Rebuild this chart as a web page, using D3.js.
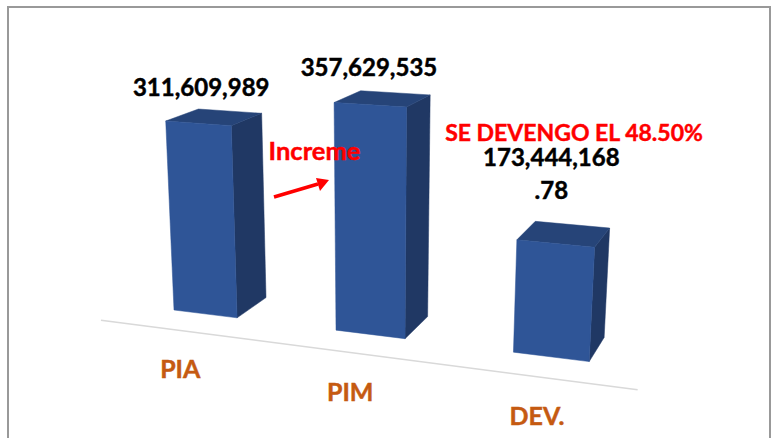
<!DOCTYPE html>
<html>
<head>
<meta charset="utf-8">
<script src="https://cdn.jsdelivr.net/npm/d3@7"></script>
<style>
  html, body { margin: 0; padding: 0; background: #fff; overflow: hidden; }
  text { font-family: Lato, sans-serif; font-weight: 700; stroke-width: 0.45px; paint-order: stroke; }
</style>
</head>
<body>
<div id="container"></div>
<script>
/* DATA */
const categories = ["PIA", "PIM", "DEV."];
const values = [311609989, 357629535, 173444168.78];
const valueLabels = [["311,609,989"], ["357,629,535"], ["173,444,168", ".78"]];

/* CONSTANTS */
const width = 777, height = 438;
const barDepth = 32.5, axisFront = -25;
const origin = [174, 310];
// vanishing points of the three box directions
const vpX = [-3400, -134], vpY = [375, 4900], vpZ = [905, -150];

// SCALES
const xScale = d3.scaleBand().domain(categories).range([-46.5, 418.5])
  .paddingInner(0.6).paddingOuter(0.3);
const hScale = d3.scaleLinear().domain([0, 400000000]).range([0, 233]);

// PROJECTION: chart space (along axis, up, depth) to the screen
const a = 1 / (vpX[0] - origin[0]), b = -1 / (vpY[1] - origin[1]), c = 1 / (vpZ[0] - origin[0]);
function project(x, h, z) {
  const w = 1 + a * x + b * h + c * z;
  return [
    (origin[0] + a * x * vpX[0] + b * h * vpY[0] + c * z * vpZ[0]) / w,
    (origin[1] + a * x * vpX[1] + b * h * vpY[1] + c * z * vpZ[1]) / w
  ];
}

const svg = d3.select("#container").append("svg")
  .attr("width", width).attr("height", height)
  .style("display", "block");

// FRAME (open at the bottom)
svg.append("path")
  .attr("d", d3.line()([[8, height], [8, 7], [770, 7], [770, height]]))
  .attr("fill", "none").attr("stroke", "#999").attr("stroke-width", 2);

// AXIS LINE
svg.append("line")
  .attr("x1", project(xScale.range()[0], 0, axisFront)[0])
  .attr("y1", project(xScale.range()[0], 0, axisFront)[1])
  .attr("x2", project(xScale.range()[1], 0, axisFront)[0])
  .attr("y2", project(xScale.range()[1], 0, axisFront)[1])
  .attr("stroke", "#d9d9d9").attr("stroke-width", 1.5);

// BARS
const faces = (d, i) => {
  const x0 = xScale(d), x1 = x0 + xScale.bandwidth(), h = hScale(values[i]);
  return {
    side: [[x1, 0, 0], [x1, 0, barDepth], [x1, h, barDepth], [x1, h, 0]],
    top: [[x0, h, 0], [x0, h, barDepth], [x1, h, barDepth], [x1, h, 0]],
    front: [[x0, 0, 0], [x1, 0, 0], [x1, h, 0], [x0, h, 0]]
  };
};
const faceColors = { side: "#203864", top: "#264478", front: "#2F5597" };
const bars = svg.selectAll("g.bar").data(categories).join("g").attr("class", "bar");
["side", "top", "front"].forEach(face => {
  bars.append("polygon")
    .attr("points", (d, i) => faces(d, i)[face].map(p => project(...p).join(",")).join(" "))
    .attr("fill", faceColors[face])
    .attr("stroke", faceColors[face]).attr("stroke-width", 0.5);
});

// VALUE LABELS
const labelShift = [[3, -27], [-1, -29], [-4, -78]];
const lineStep = 33;
svg.selectAll("g.value").data(categories).join("g").attr("class", "value")
  .each(function (d, i) {
    const p = project(xScale(d) + xScale.bandwidth() / 2, hScale(values[i]), 0);
    d3.select(this).selectAll("text").data(valueLabels[i]).join("text")
      .attr("x", p[0] + labelShift[i][0])
      .attr("y", (t, j) => p[1] + labelShift[i][1] + j * lineStep)
      .attr("text-anchor", "middle")
      .attr("font-size", 24).attr("fill", "#000").attr("stroke", "#000")
      .text(t => t);
  });

// CATEGORY LABELS
svg.selectAll("text.cat").data(categories).join("text").attr("class", "cat")
  .attr("x", d => project(xScale(d) + xScale.bandwidth() / 2, 0, axisFront)[0])
  .attr("y", d => project(xScale(d) + xScale.bandwidth() / 2, 0, axisFront)[1] + 48)
  .attr("text-anchor", "middle")
  .attr("font-size", 25).attr("fill", "#C55A11").attr("stroke", "#C55A11")
  .text(d => d);

// ANNOTATIONS
svg.append("text").attr("x", 574).attr("y", 141)
  .attr("text-anchor", "middle").attr("font-size", 23).attr("fill", "#ff0000").attr("stroke", "#ff0000")
  .text("SE DEVENGO EL 48.50%");
svg.append("text").attr("x", 314.5).attr("y", 160)
  .attr("text-anchor", "middle").attr("font-size", 25.5).attr("fill", "#ff0000").attr("stroke", "#ff0000")
  .text("Increme");

// ARROW
svg.append("line").attr("x1", 274).attr("y1", 197).attr("x2", 318).attr("y2", 184)
  .attr("stroke", "#ff0000").attr("stroke-width", 3.5);
svg.append("path")
  .attr("d", d3.line()([[329, 180], [316, 178], [320, 191]]))
  .attr("fill", "#ff0000");
</script>
</body>
</html>
